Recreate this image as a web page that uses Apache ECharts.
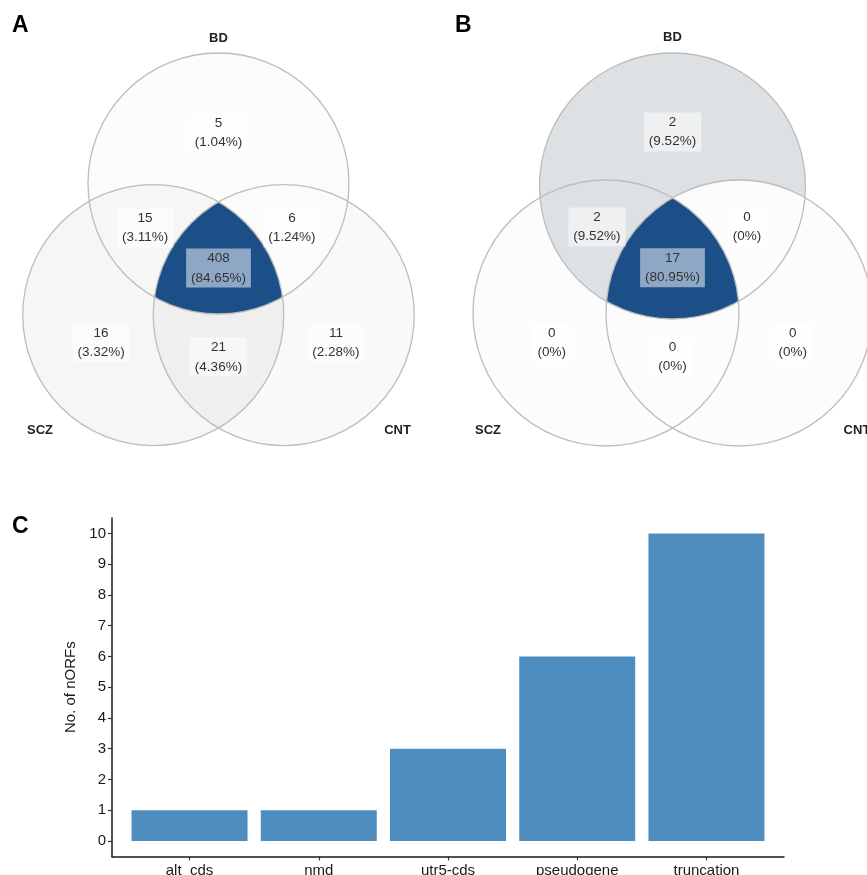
<!DOCTYPE html>
<html>
<head>
<meta charset="utf-8">
<script src="https://cdn.jsdelivr.net/npm/echarts@6/dist/echarts.min.js"></script>
<style>
  html, body { margin: 0; padding: 0; background: #ffffff; }
  #chart { width: 867px; height: 875px; }
</style>
</head>
<body>
<div id="chart"></div>
<script>
// ---------------- DATA ----------------
const setNames = ['BD', 'SCZ', 'CNT'];
const regionKeys = ['BD', 'SCZ', 'CNT', 'BD&SCZ', 'BD&CNT', 'SCZ&CNT', 'BD&SCZ&CNT'];
const countsA = [5, 16, 11, 15, 6, 21, 408];
const countsB = [2, 0, 0, 2, 0, 0, 17];

const barCategories = ['alt_cds', 'nmd', 'utr5-cds', 'pseudogene', 'truncation'];
const barValues = [1, 1, 3, 6, 10];
const yTicks = [0, 1, 2, 3, 4, 5, 6, 7, 8, 9, 10];
const yAxisTitle = 'No. of nORFs';

// ---------------- LAYOUT (positions / styles) ----------------
const panels = [
  { key: 'A', counts: countsA, grid: { left: 0, top: 0, width: 440, height: 450 },
    cx: 218.5, cy: 183.5, r: 130.5, ky: 1.008,
    labelPos: [[0, -0.387], [-0.900, 1.222], [0.900, 1.222], [-0.563, 0.341], [0.563, 0.341], [0, 1.330], [0, 0.648]],
    setPos: [[0, -1.115], [-1.368, 1.889], [1.372, 1.889]] },
  { key: 'B', counts: countsB, grid: { left: 440, top: 0, width: 427, height: 450 },
    cx: 232.5, cy: 186, r: 133, ky: 0.955,
    labelPos: [[0, -0.406], [-0.908, 1.180], [0.904, 1.180], [-0.568, 0.308], [0.560, 0.308], [0, 1.283], [0, 0.614]],
    setPos: [[0, -1.115], [-1.387, 1.835], [1.387, 1.835]] }
];
const pairIdx = [[0, 1], [0, 2], [1, 2]];
const colorStops = [
  [0, [252, 252, 252]], [0.03, [245, 245, 245]], [0.045, [236, 236, 237]],
  [0.12, [221, 225, 227]], [1, [28, 79, 136]]
];
const FONT = '"Liberation Sans", Arial, Helvetica, sans-serif';

function colorScale(t) {
  t = Math.max(0, Math.min(1, t));
  for (let k = 1; k < colorStops.length; k++) {
    if (t <= colorStops[k][0]) {
      const a = colorStops[k - 1], b = colorStops[k];
      const f = (t - a[0]) / (b[0] - a[0]);
      const c = a[1].map((v, j) => Math.round(v + (b[1][j] - v) * f));
      return 'rgb(' + c.join(',') + ')';
    }
  }
  return 'rgb(' + colorStops[colorStops.length - 1][1].join(',') + ')';
}
function pctText(c, total) {
  const p = total > 0 ? c / total * 100 : 0;
  return '(' + Number(p.toFixed(2)) + '%)';
}
function arcPts(c, R, a0, a1, n) {
  const pts = [];
  for (let k = 0; k <= n; k++) {
    const a = a0 + (a1 - a0) * k / n;
    pts.push([c[0] + R * Math.cos(a), c[1] + R * Math.sin(a)]);
  }
  return pts;
}
function lensPts(ci, cj, R) {
  const d = Math.hypot(cj[0] - ci[0], cj[1] - ci[1]);
  const al = Math.acos(Math.min(1, d / (2 * R)));
  const th = Math.atan2(cj[1] - ci[1], cj[0] - ci[0]);
  return arcPts(ci, R, th - al, th + al, 120).concat(arcPts(cj, R, th + Math.PI - al, th + Math.PI + al, 120));
}
function triplePts(C, R) {
  const pts = [];
  const N = 2880;
  for (let i = 0; i < 3; i++) {
    for (let k = 0; k < N; k++) {
      const a = 2 * Math.PI * k / N;
      const p = [C[i][0] + R * Math.cos(a), C[i][1] + R * Math.sin(a)];
      let ok = true;
      for (let j = 0; j < 3; j++) {
        if (j !== i && Math.hypot(p[0] - C[j][0], p[1] - C[j][1]) > R + 0.01) ok = false;
      }
      if (ok) pts.push(p);
    }
  }
  let mx = 0, my = 0;
  pts.forEach(p => { mx += p[0]; my += p[1]; });
  mx /= pts.length; my /= pts.length;
  pts.sort((p, q) => Math.atan2(p[1] - my, p[0] - mx) - Math.atan2(q[1] - my, q[0] - mx));
  return pts;
}

const grids = [], xAxes = [], yAxes = [], series = [];
panels.forEach((P, pi) => {
  grids.push(Object.assign({ containLabel: false, outerBoundsMode: 'none' }, P.grid));
  xAxes.push({ type: 'value', gridIndex: pi, show: false, min: -P.cx / P.r, max: (P.grid.width - P.cx) / P.r });
  yAxes.push({ type: 'value', gridIndex: pi, show: false, inverse: true, min: -P.cy / P.r, max: (P.grid.height - P.cy) / P.r });
  const centers = [[0, 0], [-0.5, P.ky], [0.5, P.ky]];
  const cmin = Math.min(...P.counts), cmax = Math.max(...P.counts);
  const total = P.counts.reduce((s, v) => s + v, 0);

  // region fills
  series.push({
    type: 'custom', xAxisIndex: pi, yAxisIndex: pi, clip: false, z: 1, silent: true,
    data: P.counts.map((c, i) => [i, c]),
    renderItem: function (params, api) {
      const i = params.dataIndex;
      const c = api.value(1);
      const fill = colorScale((c - cmin) / (cmax - cmin || 1));
      const C = centers.map(p => api.coord(p));
      const R = api.size([1, 0])[0];
      if (i < 3) {
        return { type: 'circle', shape: { cx: C[i][0], cy: C[i][1], r: R }, style: { fill: fill } };
      } else if (i < 6) {
        const pr = pairIdx[i - 3];
        return { type: 'polygon', shape: { points: lensPts(C[pr[0]], C[pr[1]], R) }, style: { fill: fill } };
      }
      return { type: 'polygon', shape: { points: triplePts(C, R) }, style: { fill: fill } };
    }
  });
  // circle outlines
  series.push({
    type: 'custom', xAxisIndex: pi, yAxisIndex: pi, clip: false, z: 2, silent: true,
    data: setNames.map((s, i) => [centers[i][0], centers[i][1]]),
    renderItem: function (params, api) {
      const p = api.coord([api.value(0), api.value(1)]);
      const R = api.size([1, 0])[0];
      return { type: 'circle', shape: { cx: p[0], cy: p[1], r: R },
        style: { fill: null, stroke: '#bdbdbd', lineWidth: 1.3 } };
    }
  });
  // region labels
  series.push({
    type: 'custom', xAxisIndex: pi, yAxisIndex: pi, clip: false, z: 3, silent: true,
    data: P.counts.map((c, i) => [P.labelPos[i][0], P.labelPos[i][1], c]),
    renderItem: function (params, api) {
      const p = api.coord([api.value(0), api.value(1)]);
      const c = api.value(2);
      return { type: 'text', x: p[0], y: p[1],
        style: { text: c + '\n' + pctText(c, total), align: 'center', verticalAlign: 'middle',
          fill: '#333333', fontSize: 13.5, fontFamily: FONT, lineHeight: 19.5,
          backgroundColor: 'rgba(255,255,255,0.5)', padding: [0, 5] } };
    }
  });
  // set names
  series.push({
    type: 'custom', xAxisIndex: pi, yAxisIndex: pi, clip: false, z: 3, silent: true,
    data: setNames.map((s, i) => [P.setPos[i][0], P.setPos[i][1]]),
    renderItem: function (params, api) {
      const p = api.coord([api.value(0), api.value(1)]);
      return { type: 'text', x: p[0], y: p[1],
        style: { text: setNames[params.dataIndex], align: 'center', verticalAlign: 'middle',
          fill: '#222222', fontSize: 13, fontWeight: 'bold', fontFamily: FONT } };
    }
  });
});

// ---------------- BAR CHART (panel C) ----------------
const gi = grids.length;
grids.push({ left: 112, right: 83, top: 518, bottom: 18.6, containLabel: false, outerBoundsMode: 'none' });
xAxes.push({
  type: 'value', gridIndex: gi, min: 0.4, max: barCategories.length + 0.6,
  splitLine: { show: false },
  axisLine: { show: true, onZero: false, lineStyle: { color: '#1a1a1a', width: 1.5 } },
  axisTick: { show: true, length: 4, lineStyle: { color: '#333', width: 1.2 },
    customValues: barCategories.map((c, i) => i + 1) },
  axisLabel: { show: true, margin: 7, fontSize: 15, color: '#1a1a1a', fontFamily: FONT,
    customValues: barCategories.map((c, i) => i + 1),
    formatter: v => barCategories[Math.round(v) - 1] || '' }
});
yAxes.push({
  type: 'value', gridIndex: gi, min: -0.5, max: yTicks[yTicks.length - 1] + 0.5,
  name: yAxisTitle, nameLocation: 'middle', nameGap: 30, nameRotate: 90,
  nameTextStyle: { fontSize: 15, color: '#1a1a1a', fontFamily: FONT },
  splitLine: { show: false },
  axisLine: { show: true, onZero: false, lineStyle: { color: '#1a1a1a', width: 1.5 } },
  axisTick: { show: true, length: 4, lineStyle: { color: '#333', width: 1.2 }, customValues: yTicks },
  axisLabel: { show: true, margin: 6, fontSize: 15, color: '#1a1a1a', fontFamily: FONT, customValues: yTicks }
});
series.push({
  type: 'bar', xAxisIndex: gi, yAxisIndex: gi, barWidth: 116, silent: true,
  data: barValues.map((v, i) => [i + 1, v]),
  itemStyle: { color: '#4e8dbf' }
});

const chart = echarts.init(document.getElementById('chart'), null, { renderer: 'canvas' });
chart.setOption({
  animation: false,
  backgroundColor: '#ffffff',
  grid: grids, xAxis: xAxes, yAxis: yAxes, series: series,
  graphic: [
    { type: 'text', left: 12, top: 14, style: { text: 'A', fontSize: 23, fontWeight: 'bold', fill: '#000', fontFamily: FONT } },
    { type: 'text', left: 455, top: 14, style: { text: 'B', fontSize: 23, fontWeight: 'bold', fill: '#000', fontFamily: FONT } },
    { type: 'text', left: 12, top: 515, style: { text: 'C', fontSize: 23, fontWeight: 'bold', fill: '#000', fontFamily: FONT } }
  ]
});
</script>
</body>
</html>
